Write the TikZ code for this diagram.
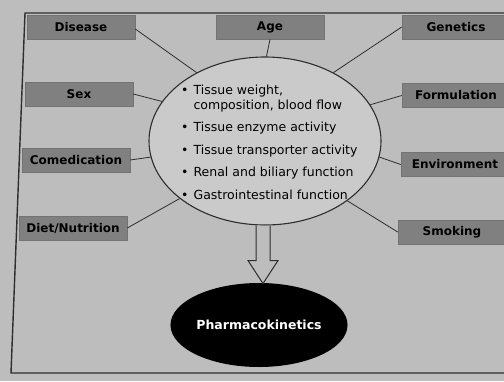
\documentclass[tikz,border=0pt]{standalone}
\usepackage{fontspec}
\setmainfont{DejaVu Sans}
\usetikzlibrary{shapes.geometric,calc}
\definecolor{bgc}{gray}{0.74}
\definecolor{boxc}{gray}{0.50}
\definecolor{linec}{gray}{0.18}
\tikzset{
  lab/.style={rectangle, fill=boxc, draw=black!55, line width=0.6pt, minimum width=108pt, minimum height=24pt, inner sep=0pt, font=\fontsize{12}{14}\selectfont\bfseries, text=black},
  conn/.style={draw=linec, line width=0.8pt},
  hollowarrow/.style={draw=linec, line width=1pt, fill=bgc},
}
\begin{document}
\begin{tikzpicture}[x=1pt,y=-1pt]
\useasboundingbox (0,0) rectangle (504,381);
\fill[bgc] (0,0) rectangle (504,381);
\draw[linec, line width=1.4pt] (520,13) -- (25,13) -- (11,373) -- (520,373);

\node[lab] (disease) at (81,27) {Disease};
\node[lab] (age) at (270,27) {Age};
\node[lab] (genetics) at (456,27) {Genetics};
\node[lab] (sex) at (79,94) {Sex};
\node[lab] (formulation) at (456,95.5) {Formulation};
\node[lab] (comed) at (76,160) {Comedication};
\node[lab] (environment) at (455,164.5) {Environment};
\node[lab] (diet) at (73,228) {Diet/Nutrition};
\node[lab] (smoking) at (452,232) {Smoking};

\node[ellipse, draw=linec, line width=1.1pt, fill=bgc!80!white, minimum width=232pt, minimum height=168pt] (ell) at (265,141) {};

\node[anchor=north west, inner sep=0pt, font=\fontsize{12.5}{15}\selectfont] (txt) at (181,83.5) {%
\begin{tabular}{@{}l@{\hspace{5pt}}l@{}}
\textbullet & Tissue weight,\\
 & composition, blood flow\\[7.5pt]
\textbullet & Tissue enzyme activity\\[7.5pt]
\textbullet & Tissue transporter activity\\[7.5pt]
\textbullet & Renal and biliary function\\[7.5pt]
\textbullet & Gastrointestinal function
\end{tabular}};

\draw[conn] (disease.east) ++(0,2) -- (ell.135);
\draw[conn] (age.south) -- (ell.89);
\draw[conn] (genetics.west) -- (ell.45);
\draw[conn] (sex.east) -- (ell.159);
\draw[conn] (formulation.west) -- (ell.19);
\draw[conn] (comed.east) -- (ell.188);
\draw[conn] (environment.west) -- (ell.352);
\draw[conn] (diet.east) -- (ell.214);
\draw[conn] (smoking.west) -- (ell.324);

\node[ellipse, fill=black, inner sep=0pt, minimum width=172pt, minimum height=84pt, font=\fontsize{12.5}{14}\selectfont\bfseries, text=white] (pk) at (259,325) {Pharmacokinetics};

\draw[hollowarrow] ($(ell.south)+(-9,0)$) -- ($(ell.south)+(-9,35)$) -- ($(ell.south)+(-17,35)$) -- ($(ell.south)+(-2,58)$) -- ($(ell.south)+(13,35)$) -- ($(ell.south)+(5,35)$) -- ($(ell.south)+(5,0)$);
\end{tikzpicture}
\end{document}
